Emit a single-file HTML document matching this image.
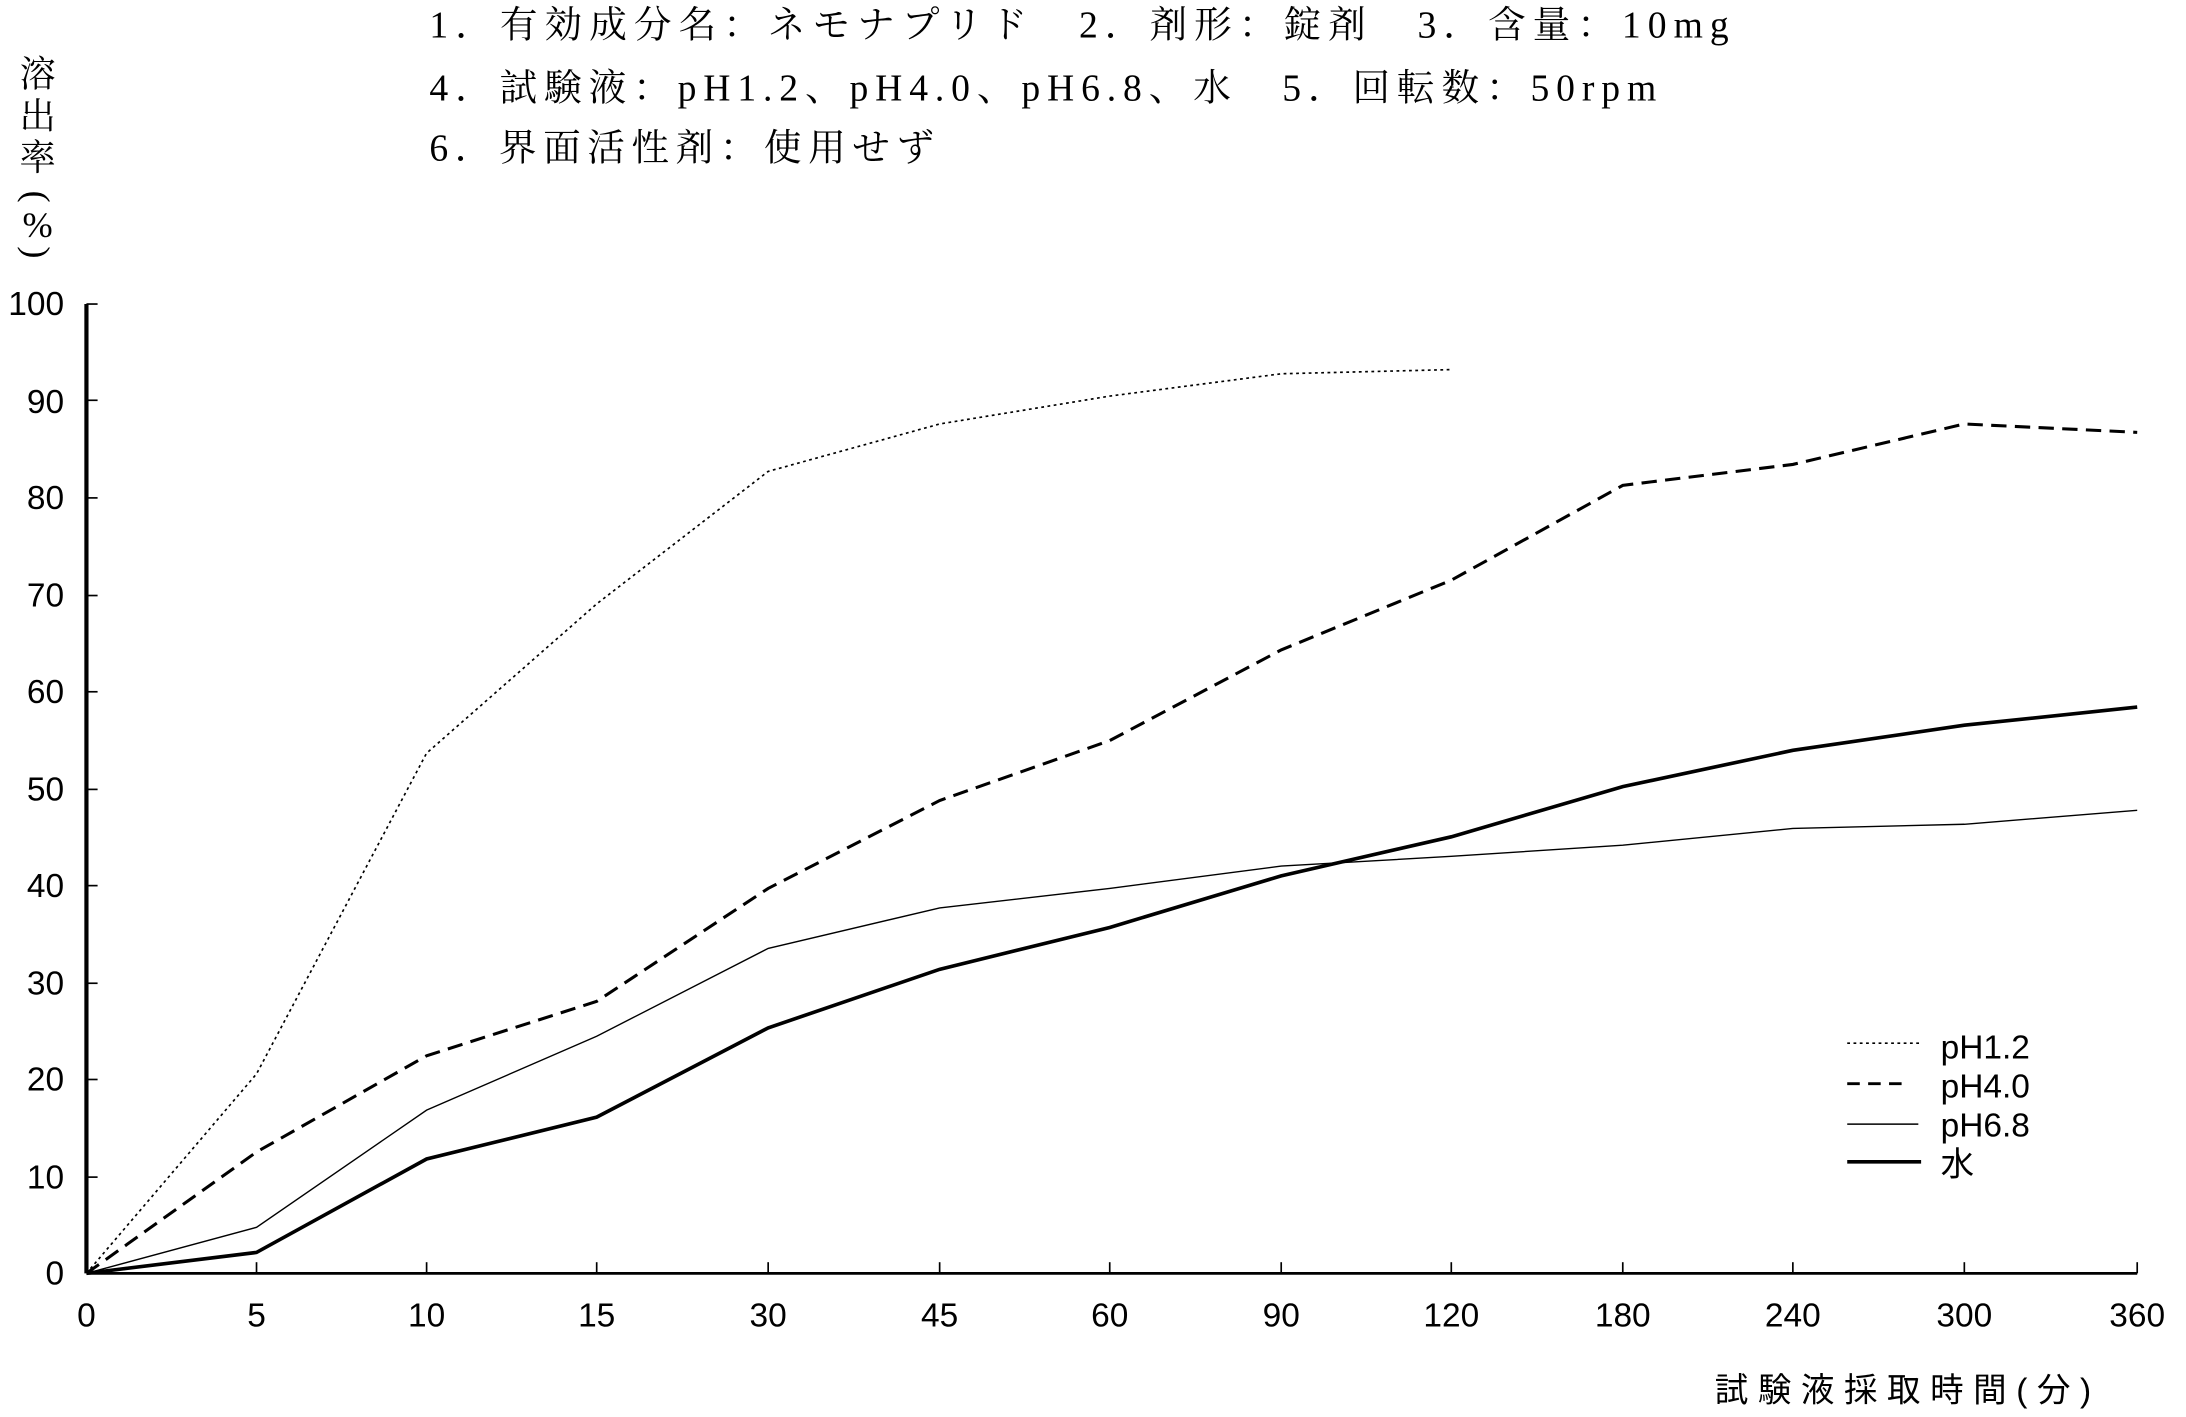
<!DOCTYPE html>
<html><head><meta charset="utf-8"><style>
html,body{margin:0;padding:0;background:#fff;}
svg{display:block;}
.t{font-family:"Liberation Serif","Noto Serif CJK SC","IPAGothic",serif;font-size:27px;fill:#000;}
.n{font-family:"Liberation Sans","Noto Sans CJK JP",sans-serif;font-size:24px;fill:#000;}
</style></head><body>
<svg width="2186" height="1417" viewBox="0 0 1568 1016" preserveAspectRatio="none" xmlns="http://www.w3.org/2000/svg">
<text class="t" x="308" y="27" textLength="932" lengthAdjust="spacing">1．有効成分名：ネモナプリド　2．剤形：錠剤　3．含量：10mg</text>
<text class="t" x="308" y="72" textLength="880" lengthAdjust="spacing">4．試験液：pH1.2、pH4.0、pH6.8、水　5．回転数：50rpm</text>
<text class="t" x="308" y="115" textLength="362" lengthAdjust="spacing">6．界面活性剤：使用せず</text>
<g class="t" style="font-size:26px" text-anchor="middle">
<text x="27" y="62">溶</text><text x="27" y="92">出</text><text x="27" y="122">率</text>
<text x="27" y="150" transform="rotate(90 27 141)">(</text>
<text x="27" y="170">%</text>
<text x="27" y="190" transform="rotate(90 27 181)">)</text>
</g>
<g stroke="#000" fill="none">
<line x1="62" y1="218" x2="62" y2="913" stroke-width="3"/>
<line x1="62" y1="913" x2="1533" y2="913" stroke-width="2"/>
<g stroke-width="1.2">
<line x1="62" y1="218" x2="70" y2="218"/><line x1="62" y1="287" x2="70" y2="287"/><line x1="62" y1="357" x2="70" y2="357"/><line x1="62" y1="427" x2="70" y2="427"/><line x1="62" y1="496" x2="70" y2="496"/><line x1="62" y1="566" x2="70" y2="566"/><line x1="62" y1="635" x2="70" y2="635"/><line x1="62" y1="705" x2="70" y2="705"/><line x1="62" y1="774" x2="70" y2="774"/><line x1="62" y1="844" x2="70" y2="844"/>
<line x1="184" y1="905" x2="184" y2="913"/><line x1="306" y1="905" x2="306" y2="913"/><line x1="428" y1="905" x2="428" y2="913"/><line x1="551" y1="905" x2="551" y2="913"/><line x1="674" y1="905" x2="674" y2="913"/><line x1="796" y1="905" x2="796" y2="913"/><line x1="919" y1="905" x2="919" y2="913"/><line x1="1041" y1="905" x2="1041" y2="913"/><line x1="1164" y1="905" x2="1164" y2="913"/><line x1="1286" y1="905" x2="1286" y2="913"/><line x1="1409" y1="905" x2="1409" y2="913"/><line x1="1533" y1="905" x2="1533" y2="913"/>
</g>
<polyline stroke-width="1.2" stroke-dasharray="2,2.5" points="62,913 184,770 306,540 428,433 551,338 674,304 796,284 919,268 1041,265"/>
<polyline stroke-width="2.2" stroke-dasharray="11,6" points="62,913 184,826 306,757 428,718 551,637 674,574 796,531 919,466 1041,416 1164,348 1286,333 1409,304 1533,310"/>
<polyline stroke-width="1" points="62,913 184,880 306,796 428,743 551,680 674,651 796,637 919,621 1041,614 1164,606 1286,594 1409,591 1533,581"/>
<polyline stroke-width="2.6" points="62,913 184,898 306,831 428,801 551,737 674,695 796,665 919,628 1041,600 1164,564 1286,538 1409,520 1533,507"/>
<line x1="1325" y1="748" x2="1378" y2="748" stroke-width="1.2" stroke-dasharray="2,2.5"/>
<line x1="1325" y1="777" x2="1370" y2="777" stroke-width="2" stroke-dasharray="9,6"/>
<line x1="1325" y1="806" x2="1376" y2="806" stroke-width="1"/>
<line x1="1325" y1="833" x2="1378" y2="833" stroke-width="2.6"/>
</g>
<g class="n" text-anchor="end">
<text x="46" y="226">100</text><text x="46" y="296">90</text><text x="46" y="365">80</text><text x="46" y="435">70</text><text x="46" y="504">60</text><text x="46" y="574">50</text><text x="46" y="643">40</text><text x="46" y="713">30</text><text x="46" y="782">20</text><text x="46" y="852">10</text><text x="46" y="921">0</text>
</g>
<g class="n" text-anchor="middle">
<text x="62" y="951">0</text><text x="184" y="951">5</text><text x="306" y="951">10</text><text x="428" y="951">15</text><text x="551" y="951">30</text><text x="674" y="951">45</text><text x="796" y="951">60</text><text x="919" y="951">90</text><text x="1041" y="951">120</text><text x="1164" y="951">180</text><text x="1286" y="951">240</text><text x="1409" y="951">300</text><text x="1533" y="951">360</text>
</g>
<g class="n">
<text x="1392" y="759">pH1.2</text><text x="1392" y="787">pH4.0</text><text x="1392" y="815">pH6.8</text><text x="1392" y="843">水</text>
</g>
<text class="n" x="1230" y="1005" textLength="270" lengthAdjust="spacing">試験液採取時間(分)</text>
</svg>
</body></html>
